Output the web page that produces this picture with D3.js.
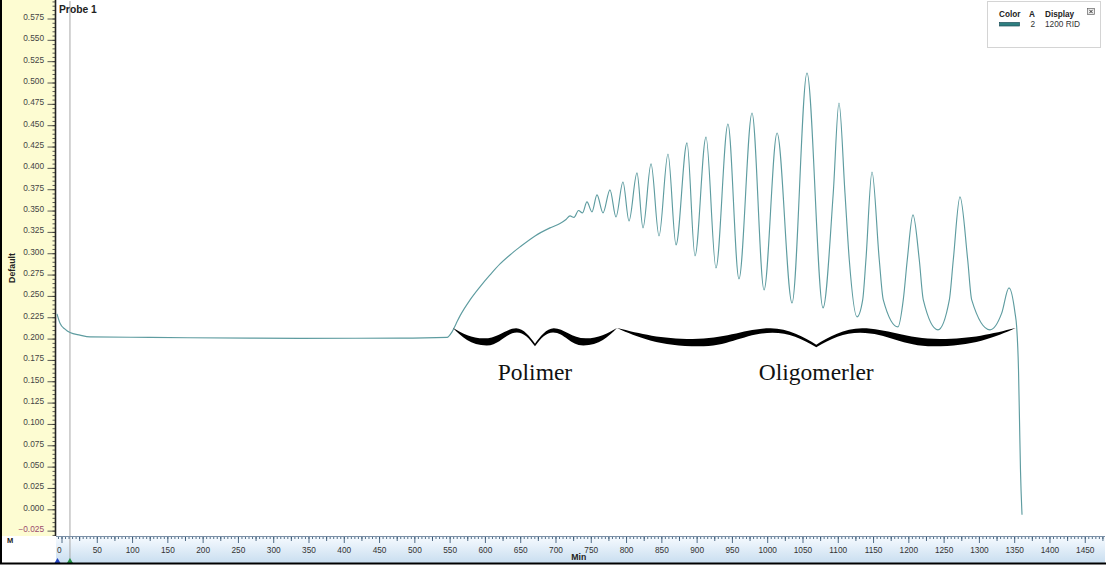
<!DOCTYPE html>
<html>
<head>
<meta charset="utf-8">
<script src="https://cdn.jsdelivr.net/npm/d3@7"></script>
<style>
  html, body { margin: 0; padding: 0; background: #fff; }
  svg { display: block; }
  text { font-family: "Liberation Sans", Arial, sans-serif; }
</style>
</head>
<body>
<svg id="chart" width="1107" height="567"></svg>
<script>
// RID trace: retention time (min) of each sampled point
const traceMin = [
  -6.4, -2.1, 5.0, 12.0, 26.2, 40.4, 125.4, 267.1, 338.0, 479.7, 546.3,
  553.4, 559.0, 564.7, 578.9, 593.0, 607.2, 621.4, 635.5, 649.7, 671.0, 692.2, 706.4,
  714.9, 720.6, 726.2, 732.6, 738.3,
  744.6, 751.7, 758.8, 767.3, 777.2, 785.7, 795.6, 804.2, 815.5, 824.0, 835.4, 846.7, 859.4,
  870.8, 886.4, 897.7, 913.3, 927.4, 944.4, 960.0, 978.5, 995.5, 1014.0, 1035.2, 1056.4, 1079.1,
  1093.6, 1101.7, 1110.2, 1116.3, 1127.2,
  1135.3, 1139.9, 1148.5, 1158.8, 1164.5, 1185.3,
  1192.8, 1198.5, 1206.6, 1215.5, 1221.2, 1242.0,
  1258.1, 1263.7, 1273.2, 1284.1, 1289.8, 1315.7,
  1332.3, 1342.6, 1351.2, 1353.5, 1356.1, 1357.5, 1358.9, 1361.1
];
// Detector signal at those times
const traceSignal = [
  0.229, 0.218, 0.211, 0.207, 0.204, 0.202, 0.2014, 0.2005, 0.2003, 0.2005, 0.2014,
  0.2079, 0.2172, 0.2266, 0.2453, 0.2606, 0.2746, 0.2875, 0.2980, 0.3074, 0.3203, 0.3297, 0.3349,
  0.3396, 0.3437, 0.3420, 0.3501, 0.3472,
  0.3601, 0.3484, 0.3683, 0.3472, 0.3742, 0.3425, 0.3835, 0.3378, 0.3941, 0.3297, 0.4046, 0.3203, 0.4163,
  0.3098, 0.4292, 0.2969, 0.4362, 0.2828, 0.4514, 0.2699, 0.4643, 0.2570, 0.4409, 0.2418, 0.5112, 0.2360,
  0.3706, 0.4760, 0.3706, 0.2923, 0.2254,
  0.2453, 0.2923, 0.3952, 0.2923, 0.2453, 0.2137,
  0.2453, 0.2923, 0.3449, 0.2923, 0.2453, 0.2102,
  0.2453, 0.2923, 0.3660, 0.2923, 0.2453, 0.2102,
  0.2298, 0.2594, 0.2298, 0.2137, 0.1634, 0.1048, 0.0462, -0.0065
];

// Bracketed regions of the chromatogram
const braceNames = ["Polimer", "Oligomerler"];
const braceStart = [554.8, 787.1];
const braceEnd   = [787.1, 1352.0];
const braceLevel = 0.2125;

// Axis ticks
const xMajorTicks = d3.range(0, 1451, 50);
const xMinorTicks = d3.range(-5, 1476, 5);
const yMajorTicks = d3.range(-25, 576, 25).map(d => d / 1000);
const yMinorTicks = d3.range(-30, 596, 5).map(d => d / 1000);

// Legend
const legendHeaders = ["Color", "A", "Display"];
const legendRow = { channel: "2", name: "1200 RID" };

const svg = d3.select("#chart");
const W = 1107, H = 567;
const plot = { left: 56, right: 1105, top: 1, bottom: 536 };

const x = d3.scaleLinear().domain([0, 1450]).range([61.5, 61.5 + 1450 * 0.7057]);
const y = d3.scaleLinear().domain([0, 0.575]).range([509.3, 18.5]);

const defs = svg.append("defs");
defs.append("clipPath").attr("id", "plotClip")
  .append("rect").attr("x", plot.left).attr("y", plot.top)
  .attr("width", plot.right - plot.left).attr("height", plot.bottom - plot.top);
const grad = defs.append("linearGradient").attr("id", "bandGrad")
  .attr("x1", 0).attr("y1", 0).attr("x2", 0).attr("y2", 1);
grad.append("stop").attr("offset", "0%").attr("stop-color", "#f7fbff");
grad.append("stop").attr("offset", "100%").attr("stop-color", "#c9def0");

// background panels
svg.append("rect").attr("width", W).attr("height", H).attr("fill", "#fff");
svg.append("rect").attr("x", 2).attr("y", 0).attr("width", plot.left - 2).attr("height", plot.bottom)
  .attr("fill", "#fdfcd2");
svg.append("rect").attr("x", plot.left).attr("y", plot.bottom).attr("width", plot.right - plot.left)
  .attr("height", 563 - plot.bottom).attr("fill", "url(#bandGrad)");

// cursor line
svg.append("line").attr("x1", x(12)).attr("x2", x(12)).attr("y1", plot.top).attr("y2", 562)
  .attr("stroke", "#a8a8a8").attr("stroke-width", 1);

// y axis ruler
const yMinor = svg.append("g").attr("transform", `translate(${plot.left - 0.5},0)`)
  .call(d3.axisLeft(y).tickValues(yMinorTicks).tickSize(3).tickFormat(""));
const yMajor = svg.append("g").attr("transform", `translate(${plot.left - 0.5},0)`)
  .call(d3.axisLeft(y).tickValues(yMajorTicks).tickSize(8).tickPadding(3.5)
    .tickFormat(d3.format(".3f")));
[yMinor, yMajor].forEach(g => {
  g.select(".domain").remove();
  g.selectAll(".tick line").attr("stroke", "#333").attr("stroke-width", 0.8);
});
yMajor.selectAll(".tick text")
  .attr("dy", "0.1em")
  .style("font-size", "8.3px")
  .attr("fill", d => d < 0 ? "#9a4a6c" : "#444");
svg.append("line").attr("x1", plot.left - 0.5).attr("x2", plot.left - 0.5)
  .attr("y1", 0).attr("y2", plot.bottom).attr("stroke", "#222").attr("stroke-width", 1.6);

svg.append("text").attr("transform", `translate(15,268) rotate(-90)`)
  .attr("text-anchor", "middle").style("font-size", "8.8px").style("font-weight", "bold")
  .attr("fill", "#222").text("Default");

// x axis ruler
const xMinor = svg.append("g").attr("transform", `translate(0,${plot.bottom})`)
  .call(d3.axisBottom(x).tickValues(xMinorTicks).tickSize(3).tickFormat(""));
const xMid = svg.append("g").attr("transform", `translate(0,${plot.bottom})`)
  .call(d3.axisBottom(x).tickValues(xMajorTicks.map(d => d + 25)).tickSize(5).tickFormat(""));
const xMajor = svg.append("g").attr("transform", `translate(0,${plot.bottom})`)
  .call(d3.axisBottom(x).tickValues(xMajorTicks).tickSize(7).tickPadding(4).tickFormat(d3.format("d")));
[xMinor, xMid, xMajor].forEach(g => {
  g.select(".domain").remove();
  g.selectAll(".tick line").attr("stroke", "#2a4a6a").attr("stroke-width", 0.8);
});
xMajor.selectAll(".tick text").style("font-size", "8.3px").attr("fill", "#333")
  .filter(d => d === 0).attr("text-anchor", "start").attr("x", -5);
svg.append("line").attr("x1", plot.left).attr("x2", plot.right)
  .attr("y1", plot.bottom + 0.5).attr("y2", plot.bottom + 0.5).attr("stroke", "#7a8fa6").attr("stroke-width", 1);

svg.append("text").attr("x", x(733)).attr("y", 560).attr("text-anchor", "middle")
  .style("font-size", "8.7px").style("font-weight", "bold").attr("fill", "#222").text("Min");
svg.append("text").attr("x", 7).attr("y", 543)
  .style("font-size", "7.5px").style("font-weight", "bold").attr("fill", "#222").text("M");

// start / cursor markers at the foot of the time axis
svg.append("path").attr("d", d3.symbol(d3.symbolTriangle, 22)())
  .attr("transform", `translate(${plot.left + 1.5},562)`).attr("fill", "#2040c0");
svg.append("path").attr("d", d3.symbol(d3.symbolTriangle, 22)())
  .attr("transform", `translate(${x(12)},562)`).attr("fill", "#209040");

// trace
const traceData = traceMin.map((t, i) => [t, traceSignal[i]]);
const line = d3.line().x(d => x(d[0])).y(d => y(d[1])).curve(d3.curveMonotoneX);
svg.append("path").datum(traceData).attr("clip-path", "url(#plotClip)")
  .attr("d", line).attr("fill", "none").attr("stroke", "#5e9ca0").attr("stroke-width", 1.15);

// calligraphic braces
function bracePath(x0, x1, y0, d) {
  const h = (x1 - x0) / 2;
  const L = f => (x0 + f * h).toFixed(2), R = f => (x1 - f * h).toFixed(2);
  const Y = g => (y0 + g * d).toFixed(2);
  const P = (X, f, g) => `${X(f)},${Y(g)}`;
  return [
    `M${P(L, 0, 0)}`,
    `C${P(L, .12, .3)} ${P(L, .22, .58)} ${P(L, .38, .58)}`,
    `C${P(L, .55, .58)} ${P(L, .65, .02)} ${P(L, .77, .02)}`,
    `C${P(L, .86, .02)} ${P(L, .94, .5)} ${P(L, 1, .88)}`,
    `C${P(R, .94, .5)} ${P(R, .86, .02)} ${P(R, .77, .02)}`,
    `C${P(R, .65, .02)} ${P(R, .55, .58)} ${P(R, .38, .58)}`,
    `C${P(R, .22, .58)} ${P(R, .12, .3)} ${P(R, 0, 0)}`,
    `C${P(R, .1, .48)} ${P(R, .22, .97)} ${P(R, .41, .97)}`,
    `C${P(R, .57, .97)} ${P(R, .64, .26)} ${P(R, .78, .25)}`,
    `C${P(R, .86, .25)} ${P(R, .93, .56)} ${P(R, 1, 1.02)}`,
    `C${P(L, .93, .56)} ${P(L, .86, .25)} ${P(L, .78, .25)}`,
    `C${P(L, .64, .26)} ${P(L, .57, .97)} ${P(L, .41, .97)}`,
    `C${P(L, .22, .97)} ${P(L, .1, .48)} ${P(L, 0, 0)}`,
    "Z"
  ].join("");
}
const braceDepth = [18, 19];
braceNames.forEach((name, i) => {
  const x0 = x(braceStart[i]), x1 = x(braceEnd[i]), y0 = y(braceLevel);
  svg.append("path").attr("d", bracePath(x0, x1, y0, braceDepth[i])).attr("fill", "#000");
  svg.append("text").attr("x", (x0 + x1) / 2).attr("y", 379.5).attr("text-anchor", "middle")
    .style("font-family", "'Liberation Serif', 'Times New Roman', serif")
    .style("font-size", "23.5px").attr("fill", "#111").text(name);
});

// title
svg.append("text").attr("x", 59).attr("y", 12.5).style("font-size", "10.3px")
  .style("font-weight", "bold").attr("fill", "#222").text("Probe 1");

// legend
const lg = svg.append("g");
lg.append("rect").attr("x", 987.5).attr("y", 1.5).attr("width", 113).attr("height", 46)
  .attr("fill", "#fff").attr("stroke", "#d4d4d4");
const hdrX = [999, 1029, 1045];
legendHeaders.forEach((t, i) => {
  lg.append("text").attr("x", hdrX[i]).attr("y", 17).style("font-size", "8.2px")
    .style("font-weight", "bold").attr("fill", "#222").text(t);
});
lg.append("rect").attr("x", 999.5).attr("y", 22.5).attr("width", 20).attr("height", 3.5)
  .attr("fill", "#2e7f80").attr("stroke", "#1d4f5a").attr("stroke-width", 0.7);
lg.append("text").attr("x", 1030.5).attr("y", 27).style("font-size", "8.3px").attr("fill", "#333")
  .text(legendRow.channel);
lg.append("text").attr("x", 1045).attr("y", 27).style("font-size", "8.3px").attr("fill", "#333")
  .text(legendRow.name);
lg.append("rect").attr("x", 1087.5).attr("y", 8.5).attr("width", 7).attr("height", 6)
  .attr("fill", "#eee").attr("stroke", "#666").attr("stroke-width", 0.7);
lg.append("path").attr("d", "M1089.3,9.8L1092.7,13.2M1092.7,9.8L1089.3,13.2")
  .attr("stroke", "#222").attr("stroke-width", 0.9);

// frame
svg.append("line").attr("x1", 1).attr("x2", 1).attr("y1", 0).attr("y2", 564)
  .attr("stroke", "#000").attr("stroke-width", 2);
svg.append("line").attr("x1", 0).attr("x2", 1106).attr("y1", 563.5).attr("y2", 563.5)
  .attr("stroke", "#000").attr("stroke-width", 2);
</script>
</body>
</html>
